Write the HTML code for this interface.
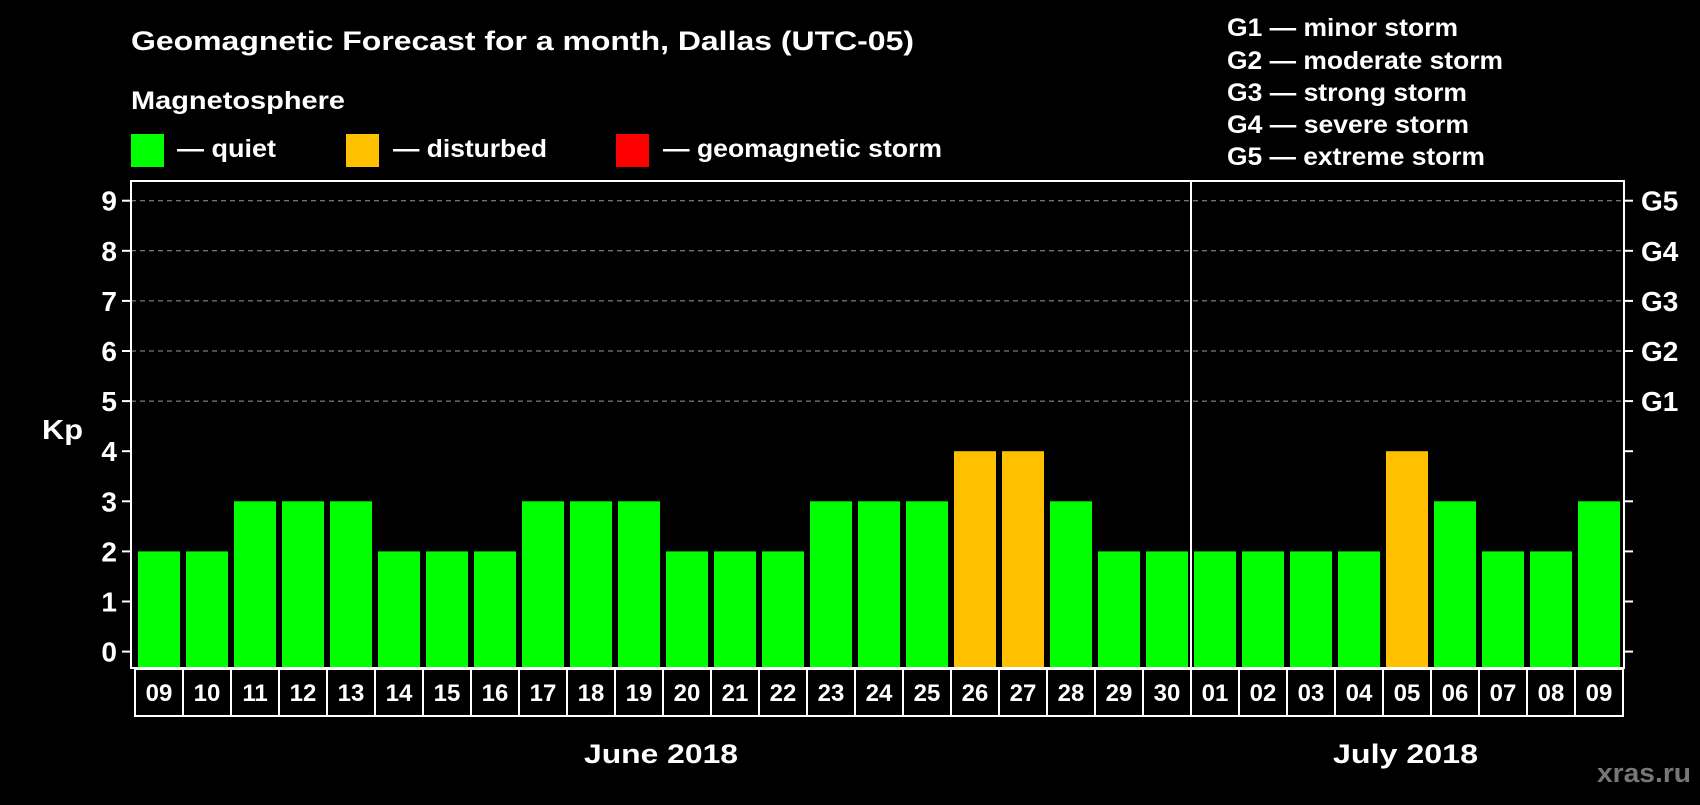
<!DOCTYPE html>
<html><head><meta charset="utf-8"><style>
body{margin:0;background:#000;width:1700px;height:800px;overflow:hidden;font-family:"Liberation Sans",Arial,sans-serif;font-weight:bold;color:#fff}
svg text{font-family:"Liberation Sans",Arial,sans-serif;font-weight:bold;fill:#fff}
</style></head><body>
<svg id="c" width="1700" height="800">
<text x="131" y="50" font-size="27" textLength="783" lengthAdjust="spacingAndGlyphs">Geomagnetic Forecast for a month, Dallas (UTC-05)</text>
<text x="131" y="109" font-size="25" textLength="214" lengthAdjust="spacingAndGlyphs">Magnetosphere</text>
<rect x="131" y="134" width="33" height="33" fill="#00ff00"/>
<text x="177" y="157" font-size="25" textLength="99" lengthAdjust="spacingAndGlyphs">— quiet</text>
<rect x="346" y="134" width="33" height="33" fill="#ffc000"/>
<text x="393" y="157" font-size="25" textLength="154" lengthAdjust="spacingAndGlyphs">— disturbed</text>
<rect x="616" y="134" width="33" height="33" fill="#ff0000"/>
<text x="663" y="157" font-size="25" textLength="279" lengthAdjust="spacingAndGlyphs">— geomagnetic storm</text>
<g font-size="25">
<text x="1227" y="36" textLength="231" lengthAdjust="spacingAndGlyphs">G1 — minor storm</text>
<text x="1227" y="69" textLength="276" lengthAdjust="spacingAndGlyphs">G2 — moderate storm</text>
<text x="1227" y="101" textLength="240" lengthAdjust="spacingAndGlyphs">G3 — strong storm</text>
<text x="1227" y="133" textLength="242" lengthAdjust="spacingAndGlyphs">G4 — severe storm</text>
<text x="1227" y="165" textLength="258" lengthAdjust="spacingAndGlyphs">G5 — extreme storm</text>
</g>
<text x="42" y="439" font-size="28" textLength="41" lengthAdjust="spacingAndGlyphs">Kp</text>
<text x="584" y="763" font-size="27" textLength="154" lengthAdjust="spacingAndGlyphs">June 2018</text>
<text x="1333" y="763" font-size="27" textLength="145" lengthAdjust="spacingAndGlyphs">July 2018</text>
<text x="1597" y="782" font-size="27" textLength="94" lengthAdjust="spacingAndGlyphs" style="fill:#777">xras.ru</text>
<g id="plot"></g>
</svg>
<script>
const days=["09","10","11","12","13","14","15","16","17","18","19","20","21","22","23","24","25","26","27","28","29","30","01","02","03","04","05","06","07","08","09"];
const kp=[2,2,3,3,3,2,2,2,3,3,3,2,2,2,3,3,3,4,4,3,2,2,2,2,2,2,4,3,2,2,3];
const yTicks=[0,1,2,3,4,5,6,7,8,9];
const gLabels=["G1","G2","G3","G4","G5"];
const monthSplit=22;
const NS="http://www.w3.org/2000/svg";
const g=document.getElementById('plot');
const L=131,R=1624,T=181,B=668,y0=651.6,unit=50.1,x0=138,pitch=48,bw=42;
const y=v=>y0-v*unit;
const x=i=>x0+i*pitch;
function mk(t,a){const e=document.createElementNS(NS,t);for(const k in a)e.setAttribute(k,a[k]);g.appendChild(e);return e;}
yTicks.forEach(v=>{
  if(v>=5){const l=mk('line',{x1:L,x2:R,y1:y(v),y2:y(v),stroke:'#999','stroke-dasharray':'5,4','stroke-width':1});
  
  }
  const t1=mk('line',{x1:L-9,x2:L,y1:y(v),y2:y(v),stroke:'#fff','stroke-width':2});
  
  
  const t2=mk('line',{x1:R,x2:R+9,y1:y(v),y2:y(v),stroke:'#fff','stroke-width':2});
  
  
  const tx=mk('text',{x:117,y:y(v)+10,'font-size':28,'text-anchor':'end'});tx.textContent=v;
  
  
});
gLabels.forEach((s,i)=>{const tx=mk('text',{x:1641,y:y(5+i)+10,'font-size':28});tx.textContent=s;
  
  });
kp.forEach((v,i)=>{
  const c=v>=5?'#ff0000':v>=4?'#ffc000':'#00ff00';
  const r=mk('rect',{x:x(i),y:y(v),width:bw,height:B-y(v),fill:c});
  
  
  const b=mk('rect',{x:x(i)-3,y:669,width:pitch,height:47,fill:'none',stroke:'#fff','stroke-width':2});
  
  
  const t=mk('text',{x:x(i)+bw/2,y:701,'font-size':24,'text-anchor':'middle'});t.textContent=days[i];
  
  
});
const ml=mk('line',{x1:x(monthSplit)-3,x2:x(monthSplit)-3,y1:T,y2:B,stroke:'#fff','stroke-width':2});


const fr=mk('rect',{x:L,y:T,width:R-L,height:B-T,fill:'none',stroke:'#fff','stroke-width':2});


</script>
</body></html>
